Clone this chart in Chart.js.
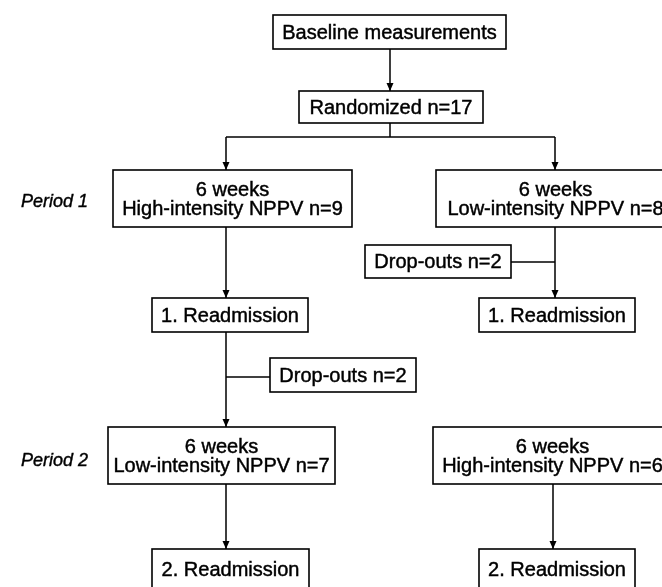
<!DOCTYPE html>
<html>
<head>
<meta charset="utf-8">
<script src="https://cdn.jsdelivr.net/npm/chart.js@4"></script>
<style>
  html, body { margin: 0; padding: 0; background: #fff; }
  #flow { display: block; }
</style>
</head>
<body>
<canvas id="flow" width="662" height="587"></canvas>
<script>
// Flowchart content
const nodeText = [
    ['Baseline measurements'],
    ['Randomized n=17'],
    ['6 weeks', 'High-intensity NPPV n=9'],
    ['6 weeks', 'Low-intensity NPPV n=8'],
    ['Drop-outs n=2'],
    ['1. Readmission'],
    ['1. Readmission'],
    ['Drop-outs n=2'],
    ['6 weeks', 'Low-intensity NPPV n=7'],
    ['6 weeks', 'High-intensity NPPV n=6'],
    ['2. Readmission'],
    ['2. Readmission']
];
const nodeX = [389.5, 391, 232.5, 555.5, 438, 230, 557, 343, 221.5, 552.5, 230.5, 557];
const nodeY = [32, 107, 198.5, 198.5, 261.5, 315, 315, 375, 455.5, 455.5, 569, 569];
const nodeW = [233, 184, 239, 239, 146, 156, 156, 146, 227, 239, 157, 156];
const nodeH = [34, 32, 57, 57, 33, 34, 34, 34, 57, 57, 40, 40];

const periodLabels = ['Period 1', 'Period 2'];
const periodY = [201, 460];

// connectors: [points, arrow at end]
const connectors = [
    [[[390, 49], [390, 91]], true],
    [[[390, 123], [390, 137]], false],
    [[[226, 137], [555, 137]], false],
    [[[226, 137], [226, 170]], true],
    [[[555, 137], [555, 170]], true],
    [[[226, 227], [226, 298]], true],
    [[[555, 227], [555, 298]], true],
    [[[511, 262], [555, 262]], false],
    [[[226, 332], [226, 427]], true],
    [[[226, 377], [270, 377]], false],
    [[[226, 484], [226, 549]], true],
    [[[553, 484], [553, 549]], true]
];

const FONT = '"Liberation Sans", Arial, sans-serif';

function heavyText(ctx, t, x, y) {
    ctx.fillText(t, x, y);
    ctx.strokeText(t, x, y);
}

const flowPlugin = {
    id: 'flow',
    afterDatasetsDraw(chart) {
        const ctx = chart.ctx;
        const xs = chart.scales.x;
        const ys = chart.scales.y;
        ctx.save();

        // arrow heads
        connectors.forEach(([pts, arrow]) => {
            if (!arrow) return;
            const end = pts[pts.length - 1];
            const px = xs.getPixelForValue(end[0]);
            const py = ys.getPixelForValue(end[1]);
            ctx.fillStyle = '#000';
            ctx.beginPath();
            ctx.moveTo(px, py);
            ctx.lineTo(px - 3.5, py - 8);
            ctx.lineTo(px + 3.5, py - 8);
            ctx.closePath();
            ctx.fill();
        });

        // boxes
        nodeText.forEach((lines, i) => {
            const left = xs.getPixelForValue(nodeX[i] - nodeW[i] / 2);
            const right = xs.getPixelForValue(nodeX[i] + nodeW[i] / 2);
            const top = ys.getPixelForValue(nodeY[i] - nodeH[i] / 2);
            const bottom = ys.getPixelForValue(nodeY[i] + nodeH[i] / 2);
            ctx.fillStyle = '#fff';
            ctx.fillRect(left, top, right - left, bottom - top);
            ctx.strokeStyle = '#000';
            ctx.lineWidth = 1.6;
            ctx.strokeRect(left, top, right - left, bottom - top);

            ctx.fillStyle = '#000';
            ctx.lineWidth = 0.45;
            ctx.font = '20px ' + FONT;
            ctx.textAlign = 'center';
            ctx.textBaseline = 'middle';
            const cx = xs.getPixelForValue(nodeX[i]);
            const cy = ys.getPixelForValue(nodeY[i]);
            const gap = 19;
            lines.forEach((t, k) => {
                const ty = cy + (k - (lines.length - 1) / 2) * gap + 1;
                heavyText(ctx, t, cx, ty);
            });
        });

        // period labels
        ctx.font = 'italic 18px ' + FONT;
        ctx.lineWidth = 0.4;
        ctx.textAlign = 'right';
        ctx.textBaseline = 'middle';
        periodLabels.forEach((t, i) => {
            heavyText(ctx, t, xs.getPixelForValue(88), ys.getPixelForValue(periodY[i]) + 1);
        });
        ctx.restore();
    }
};

new Chart(document.getElementById('flow'), {
    type: 'scatter',
    data: {
        datasets: connectors.map(([pts]) => ({
            data: pts.map(p => ({ x: p[0], y: p[1] })),
            showLine: true,
            borderColor: '#000',
            borderWidth: 1.5,
            pointRadius: 0,
            fill: false
        }))
    },
    options: {
        responsive: false,
        animation: false,
        layout: { padding: 0 },
        plugins: { legend: { display: false }, tooltip: { enabled: false } },
        scales: {
            x: { type: 'linear', min: 0, max: 662, display: false },
            y: { type: 'linear', min: 0, max: 587, reverse: true, display: false }
        }
    },
    plugins: [flowPlugin]
});
</script>
</body>
</html>
